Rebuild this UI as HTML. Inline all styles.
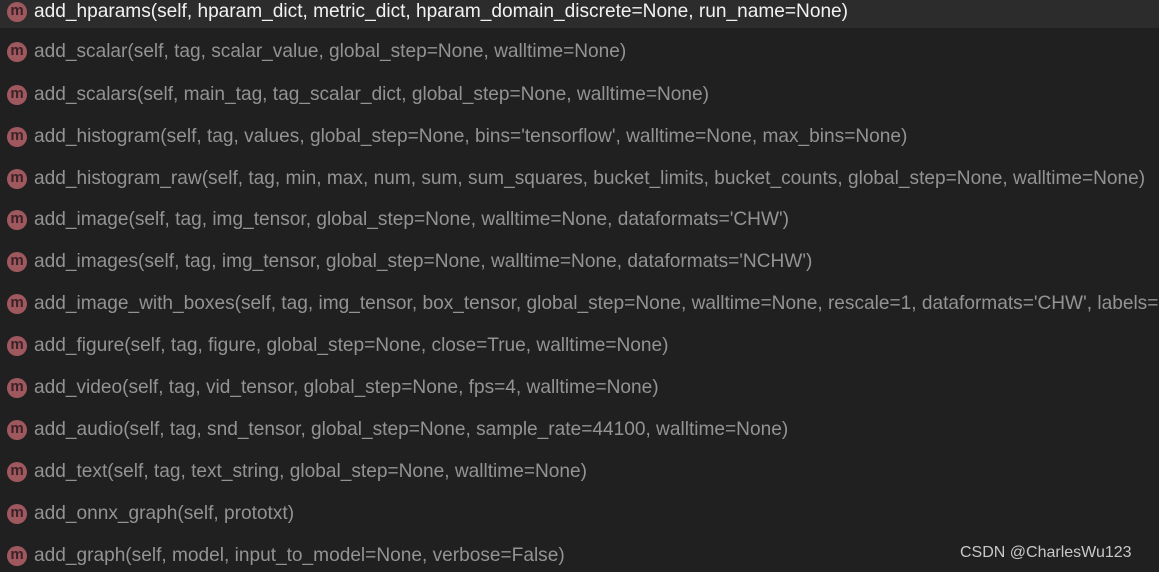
<!DOCTYPE html>
<html><head><meta charset="utf-8"><style>
body{margin:0;width:1159px;height:572px;background:#202020;overflow:hidden;position:relative;font-family:"Liberation Sans","Noto Sans CJK SC",sans-serif;}
.sel{position:absolute;left:0;top:0;width:1159px;height:28px;background:#2c2c2c;}
.r{position:absolute;left:0;height:28px;line-height:28px;white-space:nowrap;font-size:19.1px;color:#939393;}
.r .i{position:absolute;left:7px;top:4px;width:20px;height:20px;border-radius:50%;background:#a0585f;color:#3a2226;font-size:15px;line-height:18px;text-align:center;font-weight:bold;}
.r .t{position:absolute;left:34px;top:0;}
.w{color:#f2f2f2;}
.wm{position:absolute;left:960px;top:544px;font-size:16px;color:#c8c8c8;}
</style></head><body>
<div class="sel"></div>
<div class="r w" style="top:-2px"><span class="i">m</span><span class="t">add_hparams(self, hparam_dict, metric_dict, hparam_domain_discrete=None, run_name=None)</span></div>
<div class="r" style="top:38px"><span class="i">m</span><span class="t">add_scalar(self, tag, scalar_value, global_step=None, walltime=None)</span></div>
<div class="r" style="top:81px"><span class="i">m</span><span class="t">add_scalars(self, main_tag, tag_scalar_dict, global_step=None, walltime=None)</span></div>
<div class="r" style="top:123px"><span class="i">m</span><span class="t">add_histogram(self, tag, values, global_step=None, bins='tensorflow', walltime=None, max_bins=None)</span></div>
<div class="r" style="top:165px"><span class="i">m</span><span class="t">add_histogram_raw(self, tag, min, max, num, sum, sum_squares, bucket_limits, bucket_counts, global_step=None, walltime=None)</span></div>
<div class="r" style="top:206px"><span class="i">m</span><span class="t">add_image(self, tag, img_tensor, global_step=None, walltime=None, dataformats='CHW')</span></div>
<div class="r" style="top:248px"><span class="i">m</span><span class="t">add_images(self, tag, img_tensor, global_step=None, walltime=None, dataformats='NCHW')</span></div>
<div class="r" style="top:290px"><span class="i">m</span><span class="t">add_image_with_boxes(self, tag, img_tensor, box_tensor, global_step=None, walltime=None, rescale=1, dataformats='CHW', labels=None)</span></div>
<div class="r" style="top:332px"><span class="i">m</span><span class="t">add_figure(self, tag, figure, global_step=None, close=True, walltime=None)</span></div>
<div class="r" style="top:374px"><span class="i">m</span><span class="t">add_video(self, tag, vid_tensor, global_step=None, fps=4, walltime=None)</span></div>
<div class="r" style="top:416px"><span class="i">m</span><span class="t">add_audio(self, tag, snd_tensor, global_step=None, sample_rate=44100, walltime=None)</span></div>
<div class="r" style="top:458px"><span class="i">m</span><span class="t">add_text(self, tag, text_string, global_step=None, walltime=None)</span></div>
<div class="r" style="top:500px"><span class="i">m</span><span class="t">add_onnx_graph(self, prototxt)</span></div>
<div class="r" style="top:542px"><span class="i">m</span><span class="t">add_graph(self, model, input_to_model=None, verbose=False)</span></div>
<div class="wm">CSDN @CharlesWu123</div>
</body></html>
